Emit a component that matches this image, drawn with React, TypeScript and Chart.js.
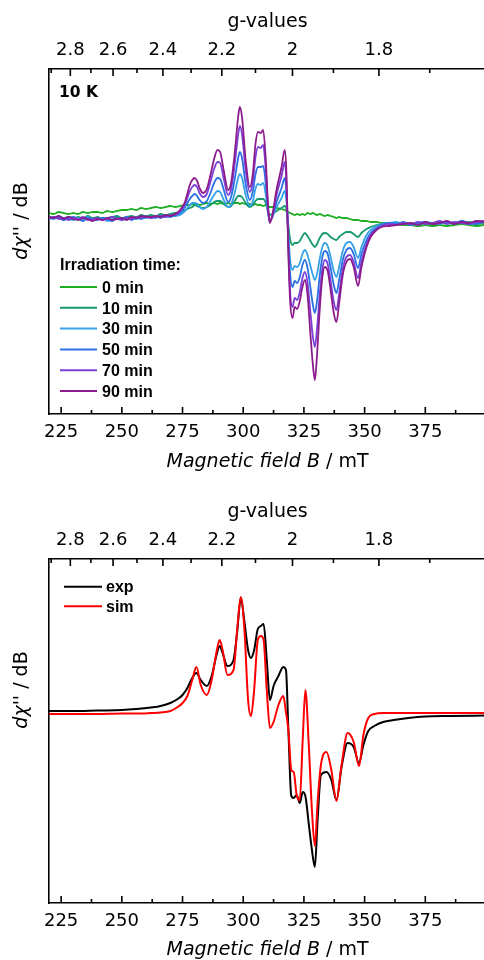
import React, { useEffect, useRef } from 'react';
import { Chart, registerables } from 'chart.js';

Chart.register(...registerables);

// ---------- axis ticks ----------
const G_FACTOR = 640.6; // B (mT) = G_FACTOR / g
const fieldTicks = [225, 250, 275, 300, 325, 350, 375];
const fieldMinorTicks = [237.5, 262.5, 287.5, 312.5, 337.5, 362.5, 387.5];
const gTicks = [2.8, 2.6, 2.4, 2.2, 2, 1.8];
const gTickLabels = ['2.8', '2.6', '2.4', '2.2', '2', '1.8'];
const gMinorTicks = [2.9, 2.7, 2.5, 2.3, 2.1, 1.9, 1.7];

// ---------- panel 1: irradiation series ----------
const irrField = [
  220, 222, 224, 226, 228, 230, 232, 234, 236, 238,
  240, 242, 244, 246, 248, 250, 252, 254, 256, 258,
  260, 262, 264, 266, 268, 270, 272, 274, 276, 278,
  279, 280, 281, 282, 283.5, 285, 286.5, 288, 289.4, 290.5,
  292, 293.8, 295, 296.5, 298, 298.6, 299.5, 301, 302.7, 304,
  305, 306.1, 307.2, 308.2, 309.3, 310.2, 310.9, 312, 313.7, 315.8,
  317.1, 317.8, 318.5, 319.3, 320.3, 321.2, 322.2, 323.3, 324.4, 325.4,
  326.5, 327.7, 328.7, 329.5, 330.4, 331.5, 332.6, 333.6, 334.8, 336,
  337.3, 338.4, 339.5, 341, 342.5, 344, 345.5, 347.3, 348.7, 350.8,
  352.5, 354.9, 357, 360, 363, 366, 369, 372, 375, 378,
  381, 384, 387, 390, 393, 396, 399, 400,
];
const irr0min = [
  2, 1, 3, 2, 1, 2, 1, 3, 2, 3,
  3, 2, 4, 3, 4, 5, 5, 6, 5, 7,
  6, 7, 8, 7, 8, 9, 8, 9, 10, 10,
  11, 10, 11, 10, 11, 12, 11, 12, 11, 12,
  11, 12, 11, 12, 12, 11, 12, 11, 11, 10,
  11, 10, 10, 9, 10, 9, 8, 8, 7, 6,
  5, 4, 3, 2, 1, 0, 1, 0, 1, 0,
  2, 1, 2, 1, 0, 1, 0, -1, 0, -1,
  -2, -3, -2, -3, -3, -4, -5, -5, -6, -6,
  -7, -7, -8, -8, -9, -10, -10, -11, -10, -11,
  -10, -11, -10, -9, -10, -11, -10, -10,
];
const irr10min = [
  -2, -3, -1, -3, -2, -4, -2, -3, -1, -3,
  -2, -4, -3, -2, -1, -3, -2, -1, -2, 0,
  -1, 0, -1, 1, 0, 1, 2, 3, 5, 7,
  8, 10, 9, 8, 7, 8, 10, 13, 14, 14,
  11, 8, 9, 14, 19, 19, 18, 12, 8, 10,
  14, 16, 16, 16, 12, 4, 0, 1, 4, 7,
  9, 6, -8, -24, -30, -28, -28, -26, -21, -18,
  -21, -26, -30, -32, -29, -23, -19, -18, -19, -22,
  -24, -25, -22, -19, -17, -17, -19, -22, -18, -14,
  -12, -10, -9, -8, -9, -8, -10, -9, -8, -9,
  -7, -8, -9, -8, -7, -9, -8, -7,
];
const irr30min = [
  -3, -4, -2, -3, -4, -5, -3, -4, -2, -5,
  -4, -3, -6, -4, -3, -5, -4, -3, -4, -2,
  -3, -2, -3, -1, -2, -1, -1, 0, 4, 10,
  12, 12, 11, 8, 6, 8, 14, 20, 24, 23,
  15, 8, 10, 22, 38, 41, 37, 20, 9, 14,
  26, 31, 30, 32, 20, 2, -6, -2, 8, 17,
  24, 14, -14, -44, -55, -51, -52, -48, -39, -35,
  -40, -51, -60, -65, -59, -44, -32, -28, -31, -42,
  -56, -62, -52, -36, -28, -27, -32, -43, -32, -20,
  -15, -11, -9, -8, -7, -9, -8, -10, -7, -8,
  -9, -7, -8, -6, -9, -8, -7, -8,
];
const irr50min = [
  -4, -2, -3, -5, -3, -2, -4, -6, -3, -4,
  -5, -3, -4, -6, -3, -4, -2, -5, -3, -4,
  -2, -3, -1, -3, -1, -2, 0, 2, 8, 16,
  19, 21, 19, 15, 12, 14, 22, 32, 37, 36,
  25, 13, 18, 36, 58, 63, 57, 31, 15, 24,
  40, 48, 48, 49, 31, 4, -6, -2, 13, 27,
  37, 22, -20, -58, -72, -66, -68, -62, -50, -45,
  -53, -73, -90, -98, -86, -61, -42, -36, -39, -53,
  -70, -78, -65, -45, -35, -33, -39, -53, -39, -25,
  -18, -13, -10, -8, -9, -7, -10, -8, -7, -9,
  -8, -7, -9, -6, -8, -9, -7, -8,
];
const irr70min = [
  -3, -2, -4, -3, -5, -3, -4, -2, -5, -4,
  -3, -5, -4, -2, -4, -5, -3, -4, -2, -3,
  -1, -3, -2, -1, -2, 0, 0, 4, 11, 24,
  28, 30, 28, 22, 18, 21, 33, 46, 53, 52,
  36, 20, 26, 51, 82, 89, 81, 45, 23, 34,
  57, 68, 67, 70, 45, 8, -7, -1, 20, 39,
  53, 32, -26, -76, -92, -83, -85, -77, -63, -57,
  -68, -98, -122, -132, -114, -80, -54, -45, -49, -66,
  -87, -95, -79, -54, -42, -40, -47, -63, -47, -29,
  -20, -14, -11, -9, -10, -8, -9, -7, -9, -8,
  -6, -9, -7, -8, -9, -7, -6, -7,
];
const irr90min = [
  -2, -3, -1, -4, -2, -4, -5, -3, -4, -6,
  -4, -5, -3, -5, -4, -3, -5, -2, -3, -1,
  -2, -2, -1, -2, 0, -1, 1, 5, 13, 30,
  35, 37, 34, 27, 22, 26, 40, 56, 65, 63,
  44, 25, 32, 62, 100, 108, 98, 55, 28, 42,
  70, 83, 82, 85, 55, 10, -8, 0, 25, 48,
  65, 42, -30, -85, -103, -92, -94, -86, -72, -65,
  -80, -120, -150, -165, -140, -95, -62, -52, -56, -75,
  -98, -107, -88, -60, -47, -44, -52, -71, -52, -32,
  -22, -15, -12, -11, -10, -9, -8, -10, -7, -9,
  -8, -6, -9, -7, -8, -6, -7, -8,
];
const irrSeries = [irr0min, irr10min, irr30min, irr50min, irr70min, irr90min];
const irrLabels = ['0 min', '10 min', '30 min', '50 min', '70 min', '90 min'];
const irrColors = ['#1fae24', '#159a70', '#35a2e8', '#2b6fe3', '#7a40d8', '#8c1b8c'];
const irrLegendTitle = 'Irradiation time:';
const irrNote = '10 K';

// ---------- panel 2: experiment vs simulation ----------
const fitField = [
  220, 230, 240, 250, 256, 262, 266, 270, 273, 275,
  277, 279, 280.7, 282.5, 285, 287, 289, 290.3, 291.5, 293.5,
  296, 297.5, 299, 300.5, 302, 303.2, 304.5, 306, 307.3, 308.4,
  309.7, 311, 312.5, 314.5, 316.5, 317.6, 318.6, 319.8, 320.8, 322,
  323.3, 324.5, 325.6, 327, 328.3, 329.5, 330.7, 332, 334.3, 336.3,
  338.4, 340.5, 343, 345.5, 347.7, 349.5, 351.5, 354, 357.6, 362,
  368, 375, 385, 400,
];
const expSpectrum = [
  1, 1, 1.5, 2, 3, 4.5, 6, 9, 13, 17,
  24, 34, 39, 32, 26, 36, 57, 66, 59, 46,
  52, 80, 114, 90, 62, 54, 62, 83, 86, 88,
  52, 12, 26, 36, 45, 42, -18, -84, -86, -83,
  -91, -80, -84, -112, -138, -155, -105, -63, -60, -68,
  -88, -55, -31, -35, -51, -33, -19, -14, -10, -8,
  -6, -4.5, -4, -3.5,
];
const simSpectrum = [
  -2, -2, -2, -1.5, -1.5, -1, -0.5, 1, 5, 9,
  16, 32, 45, 27, 17, 32, 60, 72, 62, 37,
  42, 82, 115, 82, 12, -4, 22, 72, 76, 72,
  22, -16, -10, 7, 16, 0, -18, -58, -60, -83,
  -88, -28, 22, -33, -98, -134, -88, -53, -40, -58,
  -89, -53, -21, -30, -54, -23, -6, -2, -1, -1,
  -1, -1, -1, -1,
];
const fitLabels = ['exp', 'sim'];
const fitColors = ['#000000', '#ff0000'];

// ---------- drawing helpers ----------
const AXIS_FAMILY = "'DejaVu Sans', sans-serif";
const LEGEND_FONT = "bold 16px 'Liberation Sans', Arial, sans-serif";

type Decor = {
  yTitleCenter: number;
  xTitleOffset: number;
  legendTitle?: string;
  legendTitleY?: number;
  legendX0: number;
  legendX1: number;
  legendTextX: number;
  legendY0: number;
  legendDy: number;
  note?: string;
};

function decorPlugin(d: Decor) {
  return {
    id: 'decor',
    afterDraw(chart: any) {
      const { ctx, chartArea: ca } = chart;
      const xb = chart.scales.x;
      const xt = chart.scales.xTop;
      ctx.save();
      // inward tick marks
      ctx.strokeStyle = '#000';
      ctx.lineWidth = 1.6;
      ctx.beginPath();
      const tick = (px: number, y: number, len: number) => {
        ctx.moveTo(px, y);
        ctx.lineTo(px, y + len);
      };
      fieldTicks.forEach((v) => tick(xb.getPixelForValue(v), ca.bottom, -7));
      fieldMinorTicks.forEach((v) => tick(xb.getPixelForValue(v), ca.bottom, -4));
      gTicks.forEach((g) => tick(xt.getPixelForValue(G_FACTOR / g), ca.top, 7));
      gMinorTicks.forEach((g) => tick(xt.getPixelForValue(G_FACTOR / g), ca.top, 4));
      ctx.stroke();

      ctx.fillStyle = '#000';
      ctx.textBaseline = 'alphabetic';
      ctx.textAlign = 'left';
      const italic = `italic 19px ${AXIS_FAMILY}`;
      const normal = `19px ${AXIS_FAMILY}`;

      // x title: "Magnetic field B / mT"
      const xa = 'Magnetic field B';
      const xbTxt = ' / mT';
      ctx.font = italic;
      const w1 = ctx.measureText(xa).width;
      ctx.font = normal;
      const w2 = ctx.measureText(xbTxt).width;
      const cx = (ca.left + ca.right) / 2;
      const by = ca.bottom + d.xTitleOffset + 6.9;
      ctx.font = italic;
      ctx.fillText(xa, cx - (w1 + w2) / 2, by);
      ctx.font = normal;
      ctx.fillText(xbTxt, cx - (w1 + w2) / 2 + w1, by);

      // y title: dχ'' / dB
      ctx.save();
      ctx.translate(27, d.yTitleCenter);
      ctx.rotate(-Math.PI / 2);
      const ya = "dχ''";
      const yb = ' / dB';
      ctx.font = italic;
      const v1 = ctx.measureText(ya).width;
      ctx.font = normal;
      const v2 = ctx.measureText(yb).width;
      ctx.font = italic;
      ctx.fillText(ya, -(v1 + v2) / 2, 0);
      ctx.font = normal;
      ctx.fillText(yb, -(v1 + v2) / 2 + v1, 0);
      ctx.restore();

      // legend
      ctx.font = LEGEND_FONT;
      if (d.legendTitle) {
        ctx.fillText(d.legendTitle, d.legendX0, (d.legendTitleY as number) + 5.7);
      }
      chart.data.datasets.forEach((s: any, i: number) => {
        const y = d.legendY0 + i * d.legendDy;
        ctx.strokeStyle = s.borderColor;
        ctx.lineWidth = 2;
        ctx.beginPath();
        ctx.moveTo(d.legendX0, y);
        ctx.lineTo(d.legendX1, y);
        ctx.stroke();
        ctx.fillStyle = '#000';
        ctx.fillText(s.label, d.legendTextX, y + 5.7);
      });

      if (d.note) {
        ctx.font = `bold 15.5px ${AXIS_FAMILY}`;
        ctx.fillText(d.note, 59, 97.3);
      }
      ctx.restore();
    },
  };
}

function makeConfig(opts: {
  field: number[];
  series: number[][];
  labels: string[];
  colors: string[];
  lineWidth: number;
  yMin: number;
  yMax: number;
  bottomH: number;
  decor: Decor;
}): any {
  const n = opts.series.length;
  const datasets = opts.series.map((vals, i) => ({
    label: opts.labels[i],
    data: opts.field.map((b, j) => ({ x: b, y: vals[j] })),
    borderColor: opts.colors[i],
    backgroundColor: opts.colors[i],
    borderWidth: opts.lineWidth,
    pointRadius: 0,
    fill: false,
    cubicInterpolationMode: 'monotone',
    order: n - 1 - i,
  }));
  const tickFont = { family: AXIS_FAMILY, size: 18 };
  return {
    type: 'line',
    data: { datasets },
    options: {
      responsive: false,
      animation: false,
      events: [],
      layout: { padding: 0 },
      plugins: { legend: { display: false }, tooltip: { enabled: false } },
      scales: {
        x: {
          type: 'linear',
          position: 'bottom',
          min: 220,
          max: 400,
          afterBuildTicks: (s: any) => {
            s.ticks = fieldTicks.map((v) => ({ value: v }));
          },
          afterFit: (s: any) => {
            s.height = opts.bottomH;
          },
          ticks: {
            font: tickFont,
            color: '#000',
            padding: 8,
            maxRotation: 0,
            minRotation: 0,
            autoSkip: false,
            callback: (v: number) => String(v),
          },
          grid: { display: false, drawTicks: false },
          border: { display: true, color: '#000', width: 1.6 },
        },
        xTop: {
          type: 'linear',
          position: 'top',
          min: 220,
          max: 400,
          afterBuildTicks: (s: any) => {
            s.ticks = gTicks.map((g) => ({ value: G_FACTOR / g }));
          },
          afterFit: (s: any) => {
            s.height = 69;
          },
          ticks: {
            font: tickFont,
            color: '#000',
            padding: 8,
            maxRotation: 0,
            minRotation: 0,
            autoSkip: false,
            callback: (_v: number, i: number) => gTickLabels[i],
          },
          grid: { display: false, drawTicks: false },
          border: { display: true, color: '#000', width: 1.6 },
          title: {
            display: true,
            text: 'g-values',
            color: '#000',
            font: { family: AXIS_FAMILY, size: 19 },
            padding: { top: 11, bottom: 0 },
          },
        },
        y: {
          type: 'linear',
          position: 'left',
          min: opts.yMin,
          max: opts.yMax,
          afterFit: (s: any) => {
            s.width = 49;
          },
          ticks: { display: false },
          grid: { display: false, drawTicks: false },
          border: { display: true, color: '#000', width: 1.6 },
        },
      },
    },
    plugins: [decorPlugin(opts.decor)],
  };
}

function Panel({ height, config }: { height: number; config: () => any }) {
  const ref = useRef<HTMLCanvasElement>(null);
  useEffect(() => {
    const chart = new Chart(ref.current as HTMLCanvasElement, config());
    return () => chart.destroy();
  }, []);
  return (
    <canvas
      ref={ref}
      width={486}
      height={height}
      style={{ display: 'block', width: 486, height }}
    />
  );
}

export default function App() {
  useEffect(() => {
    document.body.style.margin = '0';
  }, []);
  const top = () =>
    makeConfig({
      field: irrField,
      series: irrSeries,
      labels: irrLabels,
      colors: irrColors,
      lineWidth: 1.8,
      yMin: -199,
      yMax: 146,
      bottomH: 66,
      decor: {
        yTitleCenter: 221,
        xTitleOffset: 46,
        legendTitle: irrLegendTitle,
        legendTitleY: 264,
        legendX0: 60,
        legendX1: 97,
        legendTextX: 102,
        legendY0: 287,
        legendDy: 20.8,
        note: irrNote,
      },
    });
  const bottom = () =>
    makeConfig({
      field: fitField,
      series: [expSpectrum, simSpectrum],
      labels: fitLabels,
      colors: fitColors,
      lineWidth: 2,
      yMin: -191,
      yMax: 153,
      bottomH: 57,
      decor: {
        yTitleCenter: 200,
        xTitleOffset: 45,
        legendX0: 64,
        legendX1: 102,
        legendTextX: 106,
        legendY0: 96.7,
        legendDy: 19.5,
      },
    });
  return (
    <div
      style={{
        position: 'fixed',
        left: 0,
        top: 0,
        width: 484,
        height: 960,
        overflow: 'hidden',
        background: '#fff',
      }}
    >
      <div style={{ position: 'absolute', left: 0, top: 0 }}>
        <Panel height={480} config={top} />
      </div>
      <div style={{ position: 'absolute', left: 0, top: 490 }}>
        <Panel height={470} config={bottom} />
      </div>
    </div>
  );
}
